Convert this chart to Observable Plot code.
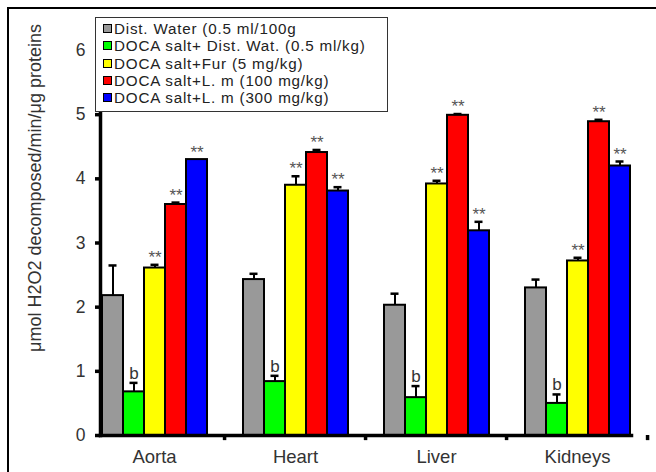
<!DOCTYPE html>
<html>
<head>
<meta charset="utf-8">
<script src="https://cdn.jsdelivr.net/npm/d3@7"></script>
<script src="https://cdn.jsdelivr.net/npm/@observablehq/plot@0.6"></script>
<style>
  html, body { margin: 0; padding: 0; background: #fff; }
  #wrap { position: relative; width: 656px; height: 472px; overflow: hidden; font-family: "Liberation Sans", Arial, sans-serif; }
  #border { position: absolute; left: 7px; top: 7px; width: 700px; height: 500px; border: 2px solid #000; box-sizing: border-box; pointer-events: none; }
  #legend { position: absolute; left: 95px; top: 17px; width: 293px; height: 95px; border: 1px solid #333; background: #fff; box-sizing: border-box; padding-top: 2px; }
  .row { display: flex; align-items: center; height: 17.3px; line-height: 17.3px; font-size: 15.2px; letter-spacing: 0.8px; color: #222; white-space: nowrap; padding-left: 7px; }
  .sw { width: 7px; height: 7px; border: 1.5px solid #000; margin-right: 2px; flex: none; }
  #ytitle { position: absolute; left: 35px; top: 188px; transform: translate(-50%, -50%) rotate(-90deg); font-size: 18px; color: #333; white-space: nowrap; }
</style>
</head>
<body>
<div id="wrap">
  <div id="chart"></div>
  <div id="border"></div>
  <div id="legend"></div>
  <div id="ytitle">μmol H2O2 decomposed/min/μg proteins</div>
</div>
<script>
const organs = ["Aorta", "Heart", "Liver", "Kidneys"];
const groups = [
  "Dist. Water (0.5 ml/100g",
  "DOCA salt+ Dist. Wat. (0.5 ml/kg)",
  "DOCA salt+Fur (5 mg/kg)",
  "DOCA salt+L. m (100 mg/kg)",
  "DOCA salt+L. m (300 mg/kg)"
];
const colors = ["#999999", "#00ff00", "#ffff00", "#ff0000", "#0000ff"];
// mean values per organ, in group order
const means = {
  Aorta:   [2.18, 0.68, 2.61, 3.60, 4.30],
  Heart:   [2.43, 0.84, 3.90, 4.41, 3.81],
  Liver:   [2.03, 0.59, 3.92, 4.99, 3.19],
  Kidneys: [2.30, 0.50, 2.72, 4.89, 4.20]
};
// error (SEM) per organ
const errors = {
  Aorta:   [0.47, 0.14, 0.05, 0.03, 0.00],
  Heart:   [0.09, 0.09, 0.14, 0.04, 0.06],
  Liver:   [0.18, 0.18, 0.05, 0.02, 0.14],
  Kidneys: [0.13, 0.14, 0.05, 0.03, 0.07]
};
const marks = ["", "b", "**", "**", "**"];
const yTicks = [0, 1, 2, 3, 4, 5, 6];

const data = organs.flatMap(o => groups.map((g, i) => ({
  organ: o, group: g, value: means[o][i], err: errors[o][i],
  top: means[o][i] + errors[o][i], sig: marks[i]
})));

// legend
const leg = document.getElementById("legend");
groups.forEach((g, i) => {
  const r = document.createElement("div");
  r.className = "row";
  r.innerHTML = `<span class="sw" style="background:${colors[i]}"></span><span>${g}</span>`;
  leg.appendChild(r);
});

const step = 566 / 4, pIn = 0.237;
const facetW = step * (1 - pIn);
const sepDx = facetW / 10 + step * pIn / 2;

const chart = Plot.plot({
  width: 656,
  height: 472,
  marginLeft: 82,
  marginRight: 8,
  marginTop: 50,
  marginBottom: 37,
  style: { fontFamily: "Liberation Sans, Arial, sans-serif", background: "#fff", overflow: "visible" },
  fx: { domain: organs, paddingInner: pIn, paddingOuter: pIn / 2 },
  x: { domain: groups, padding: 0, axis: null },
  y: { domain: [0, 6], ticks: yTicks },
  color: { domain: groups, range: colors },
  marks: [
    Plot.barY(data, { fx: "organ", x: "group", y: "value", fill: "group", stroke: "#000", strokeWidth: 2 }),
    Plot.ruleX(data.filter(d => d.err > 0), { fx: "organ", x: "group", y1: "value", y2: "top", stroke: "#000", strokeWidth: 2 }),
    Plot.tickY(data.filter(d => d.err > 0), { fx: "organ", x: "group", y: "top", stroke: "#000", strokeWidth: 2.5, inset: 6.5 }),
    Plot.text(data.filter(d => d.sig === "b"), { fx: "organ", x: "group", y: "top", text: "sig", lineAnchor: "bottom", dy: -4, fontSize: 17, fill: "#333" }),
    Plot.text(data.filter(d => d.sig === "**"), { fx: "organ", x: "group", y: "top", text: "sig", lineAnchor: "bottom", dy: -2, fontSize: 17, fill: "#555" }),
    Plot.ruleX(organs, { fx: d => d, x: () => groups[4], dx: sepDx, y1: 0, y2: -0.08, stroke: "#000", strokeWidth: 3.5 }),
    Plot.frame({ anchor: "bottom", facet: "super", stroke: "#000", strokeWidth: 3.5 }),
    Plot.frame({ anchor: "left", facet: "super", stroke: "#000", strokeWidth: 3.5 }),
    Plot.axisY({ ticks: yTicks, tickSize: 5, strokeWidth: 3.5, stroke: "#000", text: null, label: null }),
    Plot.axisY({ ticks: yTicks, tickSize: 0, tickPadding: 0, dx: -15, fontSize: 17.5, color: "#333", label: null, tickFormat: d3.format("d") }),
    Plot.axisFx({ anchor: "bottom", tickSize: 0, tickPadding: 14, fontSize: 18.5, color: "#333", label: null })
  ]
});
document.getElementById("chart").appendChild(chart);
</script>
</body>
</html>
